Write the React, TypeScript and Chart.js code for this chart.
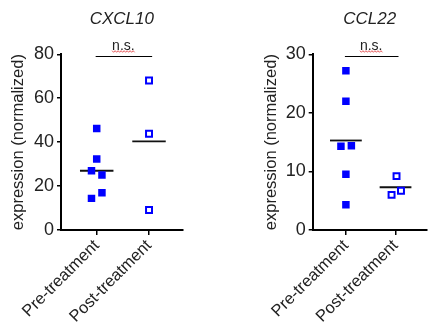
import React, { useEffect, useRef } from 'react';
import { Chart, registerables } from 'chart.js';

Chart.register(...registerables);

const FONT = '"Liberation Sans", Arial, Helvetica, sans-serif';

const categories = ['Pre-treatment', 'Post-treatment'];

const cxcl10Pre = [46.2, 32.3, 27.0, 25.0, 17.0, 14.4];
const cxcl10PreJitter = [0, 0, -0.1, 0.1, 0.1, -0.1];
const cxcl10Post = [68.1, 43.8, 9.1];
const cxcl10PostJitter = [0, 0, 0];
const cxcl10Ticks = [0, 20, 40, 60, 80];
const cxcl10Sig = 79.3;

const ccl22Pre = [27.2, 22.0, 14.3, 14.4, 9.5, 4.3];
const ccl22PreJitter = [0, 0, -0.1, 0.11, 0, 0];
const ccl22Post = [9.2, 6.0, 6.7];
const ccl22PostJitter = [0.02, -0.08, 0.11];
const ccl22Ticks = [0, 10, 20, 30];
const ccl22Sig = 29.7;

const BLUE = '#0000ff';

type Panel = {
  title: string;
  pre: number[];
  preJitter: number[];
  post: number[];
  postJitter: number[];
  ticks: number[];
  sig: number;
  xMin: number;
  xMax: number;
  padLeft: number;
  padRight: number;
  yWidth: number;
  width: number;
};

const mean = (a: number[]) => a.reduce((s, v) => s + v, 0) / a.length;

function buildConfig(p: Panel): any {
  const overlay = {
    id: 'overlay',
    beforeDatasetsDraw(chart: any) {
      const { ctx, scales } = chart;
      const xs = scales.x;
      const ys = scales.y;
      ctx.save();
      ctx.strokeStyle = '#111';
      ctx.lineWidth = 1.8;
      [p.pre, p.post].forEach((arr, i) => {
        const m = mean(arr);
        const y = ys.getPixelForValue(m);
        ctx.beginPath();
        ctx.moveTo(xs.getPixelForValue(i + 1 - 0.32), y);
        ctx.lineTo(xs.getPixelForValue(i + 1 + 0.32), y);
        ctx.stroke();
      });
      ctx.restore();
    },
    afterDraw(chart: any) {
      const { ctx, scales } = chart;
      const xs = scales.x;
      const ys = scales.y;
      ctx.save();
      // title
      ctx.fillStyle = '#222';
      ctx.font = `italic 17px ${FONT}`;
      ctx.textAlign = 'center';
      ctx.textBaseline = 'middle';
      ctx.fillText(p.title, xs.getPixelForValue(1.48), 19);
      // significance bar
      const sy = Math.round(ys.getPixelForValue(p.sig)) + 0.5;
      ctx.strokeStyle = '#000';
      ctx.lineWidth = 1;
      ctx.beginPath();
      ctx.moveTo(xs.getPixelForValue(0.98), sy);
      ctx.lineTo(xs.getPixelForValue(2.06), sy);
      ctx.stroke();
      // n.s.
      const tx = xs.getPixelForValue(1.51);
      ctx.font = `14px ${FONT}`;
      ctx.textBaseline = 'alphabetic';
      ctx.fillStyle = '#222';
      ctx.fillText('n.s.', tx, sy - 7);
      const w = ctx.measureText('n.s.').width;
      ctx.strokeStyle = '#e03030';
      ctx.lineWidth = 0.8;
      ctx.beginPath();
      let up = true;
      for (let x = tx - w / 2; x <= tx + w / 2; x += 1.5) {
        const yy = sy - 5 + (up ? -0.8 : 0.8);
        if (x === tx - w / 2) ctx.moveTo(x, yy);
        else ctx.lineTo(x, yy);
        up = !up;
      }
      ctx.stroke();
      ctx.restore();
    },
  };

  return {
    type: 'scatter',
    data: {
      datasets: [
        {
          data: p.pre.map((v, i) => ({ x: 1 + p.preJitter[i], y: v })),
          pointStyle: 'rect',
          pointRadius: 5.3,
          backgroundColor: BLUE,
          borderColor: BLUE,
          borderWidth: 0,
        },
        {
          data: p.post.map((v, i) => ({ x: 2 + p.postJitter[i], y: v })),
          pointStyle: 'rect',
          pointRadius: 4.2,
          backgroundColor: '#ffffff',
          borderColor: BLUE,
          borderWidth: 2,
        },
      ],
    },
    options: {
      animation: false,
      responsive: false,
      devicePixelRatio: 1,
      layout: { padding: { left: p.padLeft, right: p.padRight, top: 54.3, bottom: 0 } },
      plugins: { legend: { display: false }, tooltip: { enabled: false }, title: { display: false } },
      scales: {
        x: {
          type: 'linear',
          min: p.xMin,
          max: p.xMax,
          afterBuildTicks: (s: any) => {
            s.ticks = categories.map((_, i) => ({ value: i + 1 }));
          },
          afterFit: (s: any) => {
            s.height = 104;
          },
          ticks: {
            callback: (v: any) => categories[Math.round(v) - 1],
            minRotation: 45,
            maxRotation: 45,
            autoSkip: false,
            color: '#222',
            font: { family: FONT, size: 16.5 },
            padding: 1,
          },
          grid: { drawOnChartArea: false, drawTicks: true, tickLength: 5, color: '#000', lineWidth: 1.5 },
          border: { display: true, color: '#000', width: 2 },
        },
        y: {
          min: 0,
          max: p.ticks[p.ticks.length - 1],
          afterBuildTicks: (s: any) => {
            s.ticks = p.ticks.map((v) => ({ value: v }));
          },
          afterFit: (s: any) => {
            s.width = p.yWidth;
          },
          ticks: {
            color: '#222',
            font: { family: FONT, size: 18 },
            padding: 3,
          },
          grid: { drawOnChartArea: false, drawTicks: true, tickLength: 4, color: '#000', lineWidth: 1.5 },
          border: { display: true, color: '#000', width: 2 },
          title: {
            display: true,
            text: 'expression (normalized)',
            color: '#222',
            font: { family: FONT, size: 16.5 },
            padding: { top: 9, bottom: 0 },
          },
        },
      },
    },
    plugins: [overlay],
  };
}

const panels: Panel[] = [
  {
    title: 'CXCL10',
    pre: cxcl10Pre,
    preJitter: cxcl10PreJitter,
    post: cxcl10Post,
    postJitter: cxcl10PostJitter,
    ticks: cxcl10Ticks,
    sig: cxcl10Sig,
    xMin: 0.317,
    xMax: 2.65,
    padLeft: 0,
    padRight: 35,
    yWidth: 61,
    width: 218,
  },
  {
    title: 'CCL22',
    pre: ccl22Pre,
    preJitter: ccl22PreJitter,
    post: ccl22Post,
    postJitter: ccl22PostJitter,
    ticks: ccl22Ticks,
    sig: ccl22Sig,
    xMin: 0.331,
    xMax: 2.63,
    padLeft: 34.7,
    padRight: 0,
    yWidth: 60,
    width: 215,
  },
];

function PanelChart({ panel, left }: { panel: Panel; left: number }) {
  const ref = useRef<HTMLCanvasElement>(null);
  useEffect(() => {
    if (!ref.current) return;
    const chart = new Chart(ref.current, buildConfig(panel));
    return () => chart.destroy();
  }, [panel]);
  return (
    <canvas
      ref={ref}
      width={panel.width}
      height={334}
      style={{ position: 'absolute', left, top: 0, width: panel.width, height: 334 }}
    />
  );
}

export default function App() {
  return (
    <div style={{ position: 'fixed', left: 0, top: 0, width: 433, height: 334, background: '#fff', overflow: 'hidden' }}>
      <PanelChart panel={panels[0]} left={0} />
      <PanelChart panel={panels[1]} left={218} />
    </div>
  );
}
